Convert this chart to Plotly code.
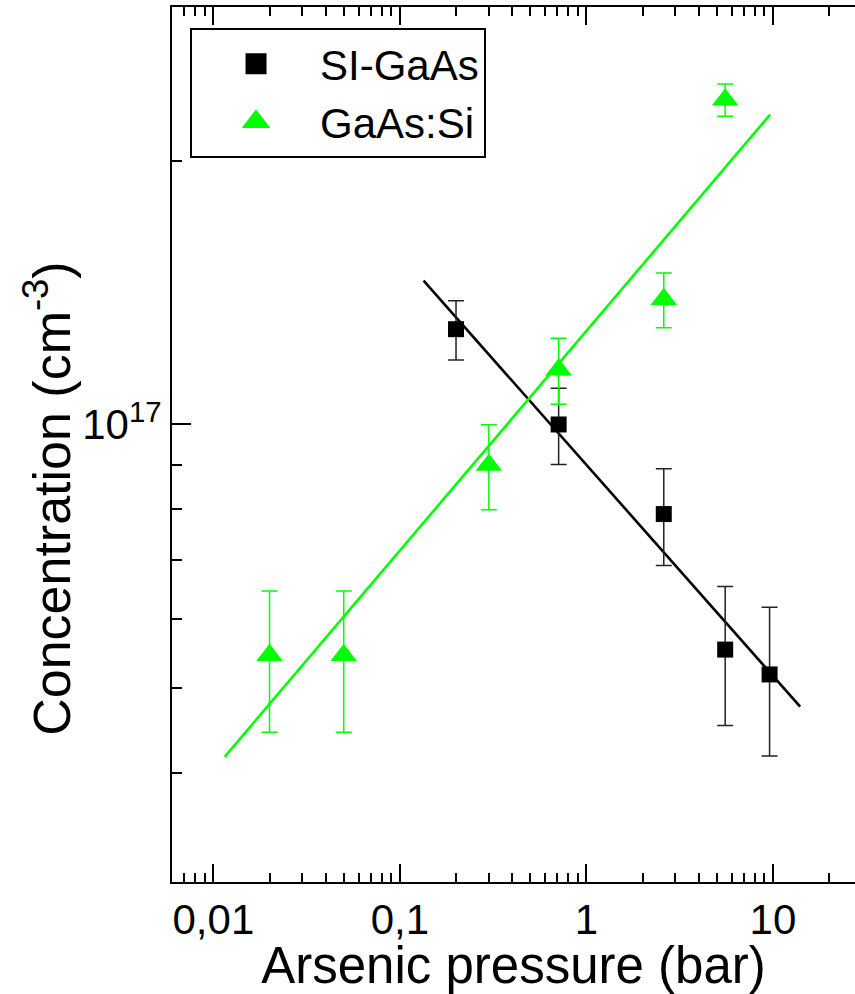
import plotly.graph_objects as go
import math

# ---- data ----
si_x = [0.2, 0.71, 2.6, 5.55, 9.6]
si_y = [1.285e17, 1.0e17, 7.9e16, 5.53e16, 5.18e16]
si_err = [1.0e16, 1.0e16, 1.0e16, 1.0e16, 1.0e16]

gs_x = [0.02, 0.05, 0.3, 0.71, 2.6, 5.55]
gs_y = [5.45e16, 5.45e16, 8.99e16, 1.155e17, 1.39e17, 2.35e17]
gs_err = [1.0e16, 1.0e16, 1.0e16, 1.0e16, 1.0e16, 1.0e16]

si_fit_x = [0.134, 14.0]
si_fit_y = [1.46e17, 4.76e16]
gs_fit_x = [0.0115, 9.66]
gs_fit_y = [4.17e16, 2.26e17]

x_major = [0.01, 0.1, 1, 10]
x_major_text = ["0,01", "0,1", "1", "10"]
x_minor = [0.006, 0.007, 0.008, 0.009,
           0.02, 0.03, 0.04, 0.05, 0.06, 0.07, 0.08, 0.09,
           0.2, 0.3, 0.4, 0.5, 0.6, 0.7, 0.8, 0.9,
           2, 3, 4, 5, 6, 7, 8, 9, 20, 30]
y_major = [1e17]
y_major_text = ["10<sup>17</sup>"]
y_minor = [3e16, 4e16, 5e16, 6e16, 7e16, 8e16, 9e16, 2e17, 3e17]

names = ["SI-GaAs", "GaAs:Si"]
x_title = "Arsenic pressure (bar)"
y_title = "Concentration (cm<sup>-3</sup>)"
GREEN = "#00FF00"
FONT = "Liberation Sans, Arial, sans-serif"

fig = go.Figure()

# fit lines
fig.add_trace(go.Scatter(x=si_fit_x, y=si_fit_y, mode="lines",
                         line=dict(color="black", width=2.6), showlegend=False))
fig.add_trace(go.Scatter(x=gs_fit_x, y=gs_fit_y, mode="lines",
                         line=dict(color=GREEN, width=2.6), showlegend=False))

# data with error bars
fig.add_trace(go.Scatter(x=si_x, y=si_y, mode="markers",
                         marker=dict(symbol="square", size=16, color="black"),
                         error_y=dict(type="data", array=si_err, color="#222222",
                                      thickness=1.5, width=8),
                         showlegend=False))
fig.add_trace(go.Scatter(x=gs_x, y=gs_y, mode="markers",
                         marker=dict(symbol="triangle-up", size=23, color=GREEN),
                         error_y=dict(type="data", array=gs_err, color=GREEN,
                                      thickness=1.5, width=8),
                         showlegend=False))

# legend entries
fig.add_trace(go.Scatter(x=[None], y=[None], mode="markers", name=names[0],
                         marker=dict(symbol="square", size=16, color="black",
                                     line=dict(color="black", width=5))))
fig.add_trace(go.Scatter(x=[None], y=[None], mode="markers", name=names[1],
                         marker=dict(symbol="triangle-up", size=16, color=GREEN,
                                     line=dict(color=GREEN, width=5))))

xr = [math.log10(0.006), 1.4403]
yr = [math.log10(3e16), math.log10(3e17)]

fig.update_layout(
    width=855, height=994,
    margin=dict(l=172, r=0, t=7, b=112),
    paper_bgcolor="white", plot_bgcolor="white",
    font=dict(family=FONT, color="black"),
    showlegend=True,
    legend=dict(x=0.0264, y=0.976, xanchor="left", yanchor="top",
                bordercolor="black", borderwidth=2, bgcolor="white",
                font=dict(size=42, family=FONT, color="black"),
                itemwidth=118, tracegroupgap=0),
    xaxis=dict(type="log", range=xr, showgrid=False, zeroline=False,
               showline=True, linecolor="black", linewidth=2, mirror="ticks",
               ticks="inside", ticklen=18, tickwidth=2, tickcolor="black",
               tickmode="array", tickvals=x_major, ticktext=x_major_text,
               tickfont=dict(size=42, family=FONT, color="black"),
               minor=dict(tickmode="array", tickvals=x_minor, ticks="inside",
                          ticklen=9, tickwidth=2, tickcolor="black", showgrid=False),
               title=dict(text=x_title,
                          font=dict(size=51, family=FONT, color="black"),
                          standoff=3)),
    yaxis=dict(type="log", range=yr, showgrid=False, zeroline=False,
               showline=True, linecolor="black", linewidth=2, mirror=False,
               ticks="inside", ticklen=19, tickwidth=2, tickcolor="black",
               tickmode="array", tickvals=y_major, ticktext=y_major_text,
               tickfont=dict(size=42, family=FONT, color="black"),
               minor=dict(tickmode="array", tickvals=y_minor, ticks="inside",
                          ticklen=10, tickwidth=2, tickcolor="black", showgrid=False)),
    yaxis2=dict(type="log", range=yr, overlaying="y", side="right", anchor="x",
                showgrid=False, zeroline=False, showline=False,
                ticks="inside", ticklen=12, tickwidth=2, tickcolor="black",
                tickmode="array", tickvals=y_major, showticklabels=False,
                minor=dict(tickmode="array", tickvals=y_minor, ticks="inside",
                           ticklen=4, tickwidth=2, tickcolor="black", showgrid=False)),
    annotations=[dict(text=y_title, textangle=-90, showarrow=False,
                      xref="paper", yref="paper", x=-0.1816, y=0.439,
                      xanchor="center", yanchor="middle",
                      font=dict(size=52, family=FONT, color="black"))],
)

fig.write_html("out.html")
